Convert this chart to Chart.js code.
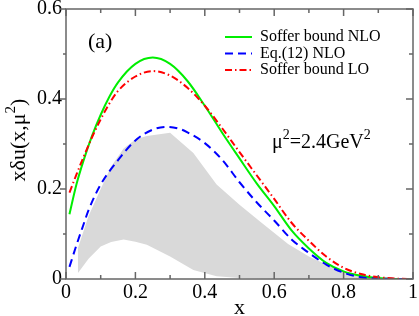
<!DOCTYPE html>
<html>
<head>
<meta charset="utf-8">
<script src="https://cdn.jsdelivr.net/npm/chart.js@4.4.1/dist/chart.umd.min.js"></script>
<style>
html, body { margin: 0; padding: 0; background: #fff; }
#wrap { width: 419px; height: 316px; }
</style>
</head>
<body>
<div id="wrap"><canvas id="chart" width="419" height="316"></canvas></div>
<script>
// Soffer bound NLO (green, solid)
const nloX = [0.01, 0.03, 0.05, 0.075, 0.1, 0.125, 0.15, 0.2, 0.25, 0.3, 0.35, 0.4, 0.45, 0.5, 0.55, 0.6, 0.65, 0.7, 0.75, 0.8, 0.85, 0.9, 0.95, 1.0];
const nloY = [0.144, 0.21, 0.262, 0.318, 0.365, 0.405, 0.437, 0.478, 0.492, 0.478, 0.44, 0.385, 0.325, 0.268, 0.212, 0.162, 0.108, 0.068, 0.036, 0.017, 0.007, 0.002, 0.0, 0.0];

// Eq.(12) NLO (blue, dashed)
const eqX = [0.01, 0.03, 0.05, 0.065, 0.1, 0.15, 0.2, 0.25, 0.29, 0.33, 0.35, 0.4, 0.45, 0.5, 0.55, 0.6, 0.65, 0.7, 0.75, 0.8, 0.85, 0.9, 1.0];
const eqY = [0.027, 0.075, 0.12, 0.153, 0.21, 0.264, 0.308, 0.332, 0.338, 0.333, 0.326, 0.302, 0.265, 0.215, 0.17, 0.13, 0.088, 0.058, 0.032, 0.014, 0.004, 0.001, 0.0];

// Soffer bound LO (red, dash-dot)
const loX = [0.01, 0.03, 0.05, 0.075, 0.1, 0.125, 0.15, 0.2, 0.25, 0.3, 0.35, 0.4, 0.45, 0.5, 0.55, 0.6, 0.65, 0.7, 0.75, 0.8, 0.85, 0.9, 0.95, 1.0];
const loY = [0.192, 0.232, 0.27, 0.315, 0.355, 0.39, 0.418, 0.45, 0.462, 0.452, 0.425, 0.385, 0.335, 0.282, 0.23, 0.178, 0.125, 0.085, 0.05, 0.025, 0.011, 0.004, 0.001, 0.0];

// grey band
const bandX = [0.034, 0.065, 0.1, 0.13, 0.166, 0.2, 0.233, 0.3, 0.367, 0.434, 0.5, 0.56, 0.64, 0.7, 0.75, 0.8, 0.85, 0.9];
const bandHigh = [0.068, 0.14, 0.2, 0.25, 0.29, 0.31, 0.318, 0.325, 0.28, 0.21, 0.165, 0.127, 0.078, 0.05, 0.032, 0.017, 0.007, 0.0];
const bandLow = [0.013, 0.045, 0.072, 0.082, 0.088, 0.083, 0.076, 0.05, 0.02, 0.006, 0.002, 0.001, 0.0, 0.0, 0.0, 0.0, 0.0, 0.0];

const xTicks = [0, 0.2, 0.4, 0.6, 0.8, 1];
const yTicks = [0, 0.2, 0.4, 0.6];

const SERIF = '"Liberation Serif", "DejaVu Serif", serif';
const AXIS = '#666';

function pts(xs, ys) {
    return xs.map((x, i) => ({ x: x, y: ys[i] }));
}

function mids(arr) {
    const out = [];
    for (let i = 0; i < arr.length - 1; i++) out.push((arr[i] + arr[i + 1]) / 2);
    return out;
}

const fmt = v => String(+Number(v).toFixed(2));

// axis box, ticks, texts and legend
const frame = {
    id: 'frame',
    afterDatasetsDraw(chart) {
        const ctx = chart.ctx, a = chart.chartArea;
        const xs = chart.scales.x, ys = chart.scales.y;
        ctx.save();
        ctx.strokeStyle = AXIS;
        ctx.lineWidth = 1.5;
        ctx.strokeRect(a.left, a.top, a.right - a.left, a.bottom - a.top);
        ctx.beginPath();
        const tick = (vals, len) => {
            vals.forEach(v => {
                const px = xs.getPixelForValue(v);
                ctx.moveTo(px, a.bottom); ctx.lineTo(px, a.bottom - len);
                ctx.moveTo(px, a.top); ctx.lineTo(px, a.top + len);
            });
        };
        tick(xTicks, 7);
        tick(mids(xTicks), 4);
        const ytick = (vals, outLen, inLen) => {
            vals.forEach(v => {
                const py = ys.getPixelForValue(v);
                ctx.moveTo(a.left, py); ctx.lineTo(a.left - outLen, py);
                ctx.moveTo(a.right, py); ctx.lineTo(a.right - inLen, py);
            });
        };
        ytick(yTicks, 6, 7);
        ytick(mids(yTicks), 3, 4);
        ctx.stroke();
        ctx.restore();
    },
    afterDraw(chart) {
        const ctx = chart.ctx, a = chart.chartArea;
        ctx.save();
        ctx.fillStyle = '#000';

        // x title
        ctx.font = '22px ' + SERIF;
        ctx.textAlign = 'center';
        ctx.textBaseline = 'alphabetic';
        ctx.fillText('x', (a.left + a.right) / 2, 314);

        // y title with superscript
        ctx.save();
        ctx.translate(25, 140);
        ctx.rotate(-Math.PI / 2);
        ctx.font = '22px ' + SERIF;
        const main = 'x\u03b4u(x,\u03bc';
        const w1 = ctx.measureText(main).width;
        ctx.font = '15px ' + SERIF;
        const w2 = ctx.measureText('2').width;
        ctx.font = '22px ' + SERIF;
        const w3 = ctx.measureText(')').width;
        let sx = -(w1 + w2 + w3) / 2;
        ctx.textAlign = 'left';
        ctx.fillText(main, sx, 0);
        ctx.font = '15px ' + SERIF;
        ctx.fillText('2', sx + w1, -10);
        ctx.font = '22px ' + SERIF;
        ctx.fillText(')', sx + w1 + w2, 0);
        ctx.restore();

        // panel label
        ctx.font = '22px ' + SERIF;
        ctx.textAlign = 'left';
        ctx.textBaseline = 'middle';
        ctx.fillText('(a)', 88, 42);

        // scale annotation
        ctx.textBaseline = 'alphabetic';
        let tx = 272;
        const parts = [['\u03bc', 20, 0], ['2', 14, -9], ['=2.4GeV', 20, 0], ['2', 14, -9]];
        parts.forEach(p => {
            ctx.font = p[1] + 'px ' + SERIF;
            ctx.fillText(p[0], tx, 148 + p[2]);
            tx += ctx.measureText(p[0]).width;
        });

        // legend
        ctx.font = '16px ' + SERIF;
        ctx.textBaseline = 'middle';
        let ly = 37;
        chart.data.datasets.filter(d => d.inLegend).forEach(d => {
            ctx.save();
            ctx.strokeStyle = d.borderColor;
            ctx.lineWidth = d.borderWidth;
            ctx.setLineDash(d.borderDash || []);
            ctx.beginPath();
            ctx.moveTo(225, ly);
            ctx.lineTo(252, ly);
            ctx.stroke();
            ctx.restore();
            ctx.fillText(d.label, 260, ly);
            ly += 16.5;
        });
        ctx.restore();
    }
};

const ctx = document.getElementById('chart');
const chart = new Chart(ctx, {
    type: 'line',
    data: {
        datasets: [
            {
                label: 'Soffer bound NLO',
                data: pts(nloX, nloY),
                borderColor: '#00ee00',
                borderWidth: 2,
                inLegend: true,
                order: 2
            },
            {
                label: 'Eq.(12) NLO',
                data: pts(eqX, eqY),
                borderColor: '#0000ff',
                borderWidth: 2,
                borderDash: [8, 5],
                inLegend: true,
                order: 1
            },
            {
                label: 'Soffer bound LO',
                data: pts(loX, loY),
                borderColor: '#ff0000',
                borderWidth: 2,
                borderDash: [7, 3, 1.5, 3],
                inLegend: true,
                order: 0
            },
            {
                label: 'band low',
                data: pts(bandX, bandLow),
                borderWidth: 0,
                borderColor: 'rgba(0,0,0,0)',
                tension: 0,
                cubicInterpolationMode: 'default',
                fill: false,
                order: 10
            },
            {
                label: 'band high',
                data: pts(bandX, bandHigh),
                borderWidth: 0,
                borderColor: 'rgba(0,0,0,0)',
                backgroundColor: '#d9d9d9',
                tension: 0,
                cubicInterpolationMode: 'default',
                fill: 3,
                order: 9
            }
        ]
    },
    plugins: [frame],
    options: {
        responsive: false,
        animation: false,
        events: [],
        elements: {
            point: { radius: 0 },
            line: { cubicInterpolationMode: 'monotone', fill: false }
        },
        layout: { padding: { top: 9, right: 6, left: 0, bottom: 0 } },
        plugins: {
            legend: { display: false },
            tooltip: { enabled: false }
        },
        scales: {
            x: {
                type: 'linear',
                min: 0,
                max: 1,
                grid: { display: false, drawTicks: false },
                border: { display: false },
                ticks: {
                    stepSize: 0.2,
                    color: '#000',
                    padding: 2,
                    maxRotation: 0,
                    callback: fmt,
                    font: { family: SERIF, size: 20 }
                },
                afterFit(s) { s.height = 37; s.paddingLeft = 0; s.paddingRight = 0; }
            },
            y: {
                min: 0,
                max: 0.6,
                grid: { display: false, drawTicks: false },
                border: { display: false },
                ticks: {
                    stepSize: 0.2,
                    color: '#000',
                    padding: 4,
                    callback: fmt,
                    font: { family: SERIF, size: 20 }
                },
                afterFit(s) { s.width = 66; s.paddingTop = 0; s.paddingBottom = 0; }
            }
        }
    }
});
</script>
</body>
</html>
